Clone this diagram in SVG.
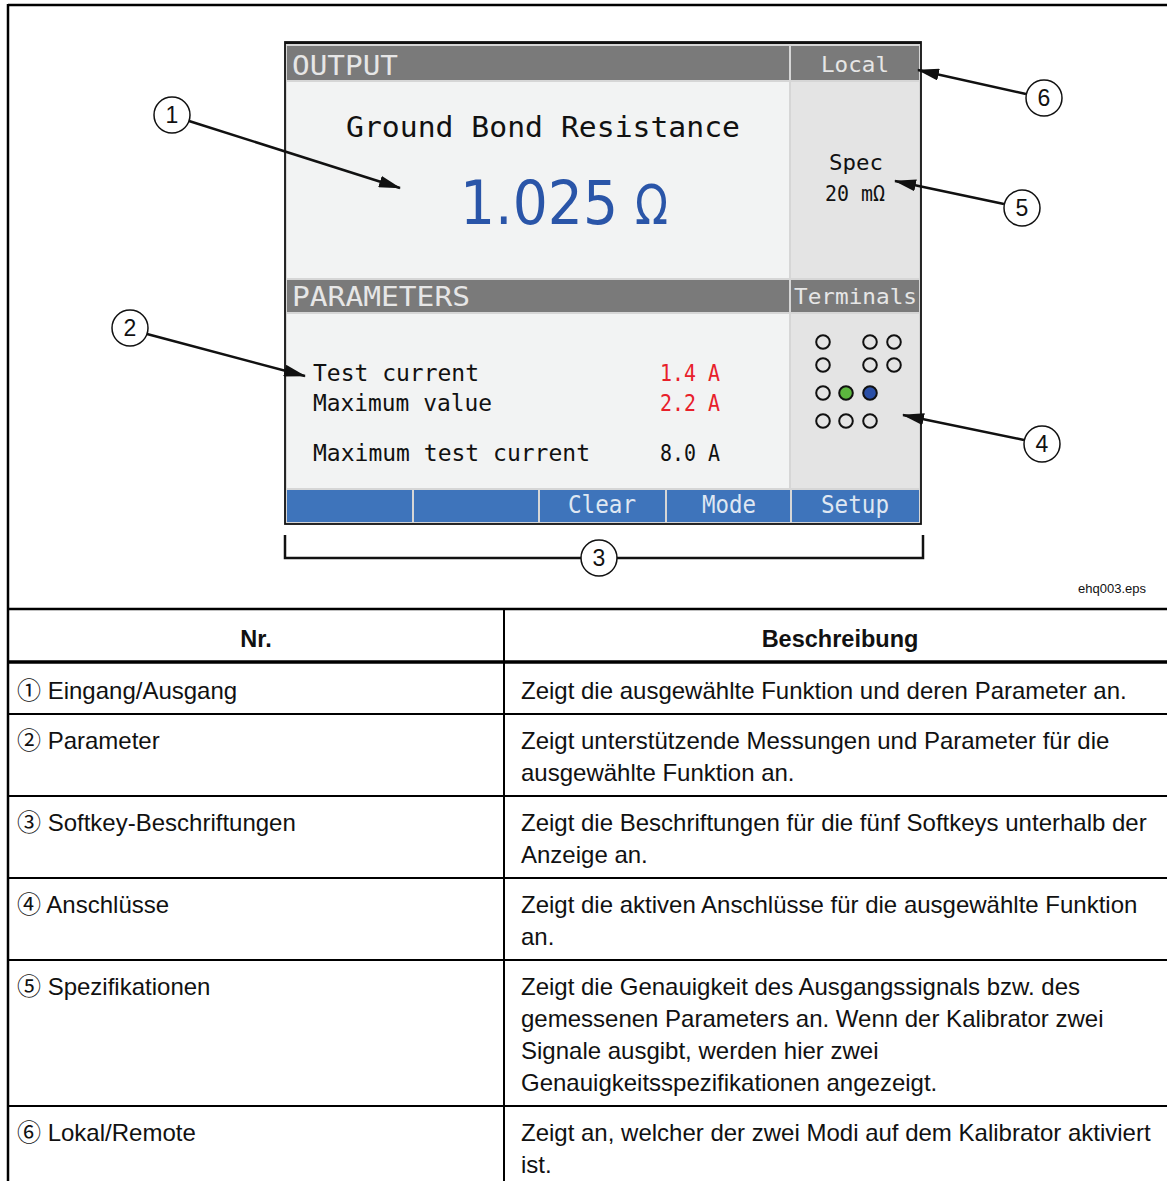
<svg xmlns="http://www.w3.org/2000/svg" width="1167" height="1181" viewBox="0 0 1167 1181">
<style>
.lcd{font-family:"DejaVu Sans Mono","Liberation Mono",monospace;}
.hdr{fill:#e6e6e6;font-size:27px;}
.tb{font-family:"Liberation Sans",Arial,"Noto Sans CJK SC",sans-serif;font-size:24px;fill:#111;}
.th{font-family:"Liberation Sans",Arial,sans-serif;font-size:23.5px;font-weight:bold;fill:#111;text-anchor:middle;}
.call{fill:#fff;stroke:#111;stroke-width:1.5;}
.cn{font-family:"Liberation Sans",Arial,sans-serif;font-size:23px;fill:#111;text-anchor:middle;}
.lead{stroke:#111;stroke-width:2.5;fill:none;}
.term{stroke:#111;stroke-width:2;}
.sk{fill:#dfe7f2;font-size:24px;text-anchor:middle;}
.rule{stroke:#000;}
</style>
<defs>
<marker id="ah" markerUnits="userSpaceOnUse" markerWidth="22" markerHeight="12" refX="21" refY="6" orient="auto">
<path d="M0,0 L22,6 L0,12 z" fill="#111"/>
</marker>
</defs>
<rect width="1167" height="1181" fill="#fff"/>
<g id="frame">
<line class="rule" x1="8" y1="5" x2="1167" y2="5" stroke-width="2.5"/>
<line class="rule" x1="8" y1="4" x2="8" y2="1181" stroke-width="2.5"/>
</g>
<g id="screen">
<rect x="285" y="42" width="636" height="482" fill="#d6d6d6" stroke="#111" stroke-width="1.8"/>
<line x1="285" y1="43" x2="921" y2="43" stroke="#111" stroke-width="2"/>
<rect x="287" y="46" width="502" height="34" fill="#7a7a7a"/>
<rect x="791" y="46" width="128" height="34" fill="#7a7a7a"/>
<rect x="287" y="82" width="502" height="196" fill="#f2f3f3"/>
<rect x="791" y="82" width="128" height="196" fill="#e4e4e4"/>
<rect x="287" y="280" width="502" height="32" fill="#7a7a7a"/>
<rect x="791" y="280" width="128" height="32" fill="#7a7a7a"/>
<rect x="287" y="314" width="502" height="174" fill="#f2f3f3"/>
<rect x="791" y="314" width="128" height="174" fill="#e4e4e4"/>
<rect x="287" y="490" width="125" height="32" fill="#3e74bb"/>
<rect x="414" y="490" width="124" height="32" fill="#3e74bb"/>
<rect x="540" y="490" width="125" height="32" fill="#3e74bb"/>
<rect x="667" y="490" width="123" height="32" fill="#3e74bb"/>
<rect x="792" y="490" width="127" height="32" fill="#3e74bb"/>
<text class="lcd hdr" x="292" y="75" textLength="106" lengthAdjust="spacingAndGlyphs">OUTPUT</text>
<text class="lcd" x="855" y="72" font-size="22" fill="#e6e6e6" text-anchor="middle" textLength="68" lengthAdjust="spacingAndGlyphs">Local</text>
<text class="lcd" x="346" y="137" font-size="29" fill="#111" textLength="394" lengthAdjust="spacingAndGlyphs">Ground Bond Resistance</text>
<text x="460" y="224" font-family="'DejaVu Sans','Liberation Sans',sans-serif" font-size="60" fill="#2a55a8" textLength="158" lengthAdjust="spacingAndGlyphs">1.025</text>
<text x="635" y="224" font-family="'DejaVu Sans','Liberation Sans',sans-serif" font-size="56" fill="#2a55a8" textLength="33" lengthAdjust="spacingAndGlyphs">Ω</text>
<text class="lcd" x="856" y="170" font-size="22" fill="#111" text-anchor="middle" textLength="54" lengthAdjust="spacingAndGlyphs">Spec</text>
<text class="lcd" x="855" y="201" font-size="22" fill="#111" text-anchor="middle" textLength="60" lengthAdjust="spacingAndGlyphs">20 mΩ</text>
<text class="lcd hdr" x="292" y="306" textLength="178" lengthAdjust="spacingAndGlyphs">PARAMETERS</text>
<text class="lcd" x="794" y="304" font-size="22" fill="#e6e6e6" textLength="123" lengthAdjust="spacingAndGlyphs">Terminals</text>
<text class="lcd" x="313" y="381" font-size="23" fill="#111" textLength="166" lengthAdjust="spacingAndGlyphs">Test current</text>
<text class="lcd" x="313" y="411" font-size="23" fill="#111" textLength="179" lengthAdjust="spacingAndGlyphs">Maximum value</text>
<text class="lcd" x="313" y="461" font-size="23" fill="#111" textLength="277" lengthAdjust="spacingAndGlyphs">Maximum test current</text>
<text class="lcd" x="660" y="381" font-size="23" fill="#e8202a" textLength="60" lengthAdjust="spacingAndGlyphs">1.4 A</text>
<text class="lcd" x="660" y="411" font-size="23" fill="#e8202a" textLength="60" lengthAdjust="spacingAndGlyphs">2.2 A</text>
<text class="lcd" x="660" y="461" font-size="23" fill="#111" textLength="60" lengthAdjust="spacingAndGlyphs">8.0 A</text>
<text class="lcd sk" x="602" y="513" textLength="68" lengthAdjust="spacingAndGlyphs">Clear</text>
<text class="lcd sk" x="729" y="513" textLength="54" lengthAdjust="spacingAndGlyphs">Mode</text>
<text class="lcd sk" x="855" y="513" textLength="68" lengthAdjust="spacingAndGlyphs">Setup</text>
<g id="terminals" fill="none">
<circle class="term" cx="823" cy="342" r="6.8"/>
<circle class="term" cx="870" cy="342" r="6.8"/>
<circle class="term" cx="894" cy="342" r="6.8"/>
<circle class="term" cx="823" cy="365" r="6.8"/>
<circle class="term" cx="870" cy="365" r="6.8"/>
<circle class="term" cx="894" cy="365" r="6.8"/>
<circle class="term" cx="823" cy="393" r="6.8"/>
<circle class="term" cx="846" cy="393" r="6.8" fill="#5cb63e"/>
<circle class="term" cx="870" cy="393" r="6.8" fill="#2a4fa6"/>
<circle class="term" cx="823" cy="421" r="6.8"/>
<circle class="term" cx="846" cy="421" r="6.8"/>
<circle class="term" cx="870" cy="421" r="6.8"/>
</g>
</g>
<g id="connectors">
<line class="lead" x1="189" y1="121" x2="400" y2="188" marker-end="url(#ah)"/>
<line class="lead" x1="147" y1="334" x2="305" y2="376" marker-end="url(#ah)"/>
<line class="lead" x1="1024" y1="440" x2="903" y2="415" marker-end="url(#ah)"/>
<line class="lead" x1="1004" y1="204" x2="895" y2="181" marker-end="url(#ah)"/>
<line class="lead" x1="1026" y1="94" x2="918" y2="70" marker-end="url(#ah)"/>
<path class="lead" d="M285,535 V558 H923 V535" stroke-width="3"/>
</g>
<g id="callout-1"><circle class="call" cx="172" cy="115" r="18"/><text class="cn" x="172" y="123">1</text></g>
<g id="callout-2"><circle class="call" cx="130" cy="328" r="18"/><text class="cn" x="130" y="336">2</text></g>
<g id="callout-3"><circle class="call" cx="599" cy="558" r="18"/><text class="cn" x="599" y="566">3</text></g>
<g id="callout-4"><circle class="call" cx="1042" cy="444" r="18"/><text class="cn" x="1042" y="452">4</text></g>
<g id="callout-5"><circle class="call" cx="1022" cy="208" r="18"/><text class="cn" x="1022" y="216">5</text></g>
<g id="callout-6"><circle class="call" cx="1044" cy="98" r="18"/><text class="cn" x="1044" y="106">6</text></g>
<text x="1146" y="593" font-family="'Liberation Sans',Arial,sans-serif" font-size="13" fill="#111" text-anchor="end">ehq003.eps</text>
<g id="table">
<line class="rule" x1="8" y1="609" x2="1167" y2="609" stroke-width="2.5"/>
<line class="rule" x1="8" y1="662" x2="1167" y2="662" stroke-width="3.5"/>
<line class="rule" x1="8" y1="714" x2="1167" y2="714" stroke-width="2"/>
<line class="rule" x1="8" y1="796" x2="1167" y2="796" stroke-width="2"/>
<line class="rule" x1="8" y1="878" x2="1167" y2="878" stroke-width="2"/>
<line class="rule" x1="8" y1="960" x2="1167" y2="960" stroke-width="2"/>
<line class="rule" x1="8" y1="1106" x2="1167" y2="1106" stroke-width="2"/>
<line class="rule" x1="504" y1="609" x2="504" y2="1181" stroke-width="2"/>
<text class="th" x="256" y="647">Nr.</text>
<text class="th" x="840" y="647">Beschreibung</text>
<text class="tb" x="17" y="699">① Eingang/Ausgang</text>
<text class="tb" x="521" y="699">Zeigt die ausgewählte Funktion und deren Parameter an.</text>
<text class="tb" x="17" y="749">② Parameter</text>
<text class="tb" x="521" y="749">Zeigt unterstützende Messungen und Parameter für die</text>
<text class="tb" x="521" y="781">ausgewählte Funktion an.</text>
<text class="tb" x="17" y="831">③ Softkey-Beschriftungen</text>
<text class="tb" x="521" y="831">Zeigt die Beschriftungen für die fünf Softkeys unterhalb der</text>
<text class="tb" x="521" y="863">Anzeige an.</text>
<text class="tb" x="17" y="913">④ Anschlüsse</text>
<text class="tb" x="521" y="913">Zeigt die aktiven Anschlüsse für die ausgewählte Funktion</text>
<text class="tb" x="521" y="945">an.</text>
<text class="tb" x="17" y="995">⑤ Spezifikationen</text>
<text class="tb" x="521" y="995">Zeigt die Genauigkeit des Ausgangssignals bzw. des</text>
<text class="tb" x="521" y="1027">gemessenen Parameters an. Wenn der Kalibrator zwei</text>
<text class="tb" x="521" y="1059">Signale ausgibt, werden hier zwei</text>
<text class="tb" x="521" y="1091">Genauigkeitsspezifikationen angezeigt.</text>
<text class="tb" x="17" y="1141">⑥ Lokal/Remote</text>
<text class="tb" x="521" y="1141">Zeigt an, welcher der zwei Modi auf dem Kalibrator aktiviert</text>
<text class="tb" x="521" y="1173">ist.</text>
</g>
</svg>
